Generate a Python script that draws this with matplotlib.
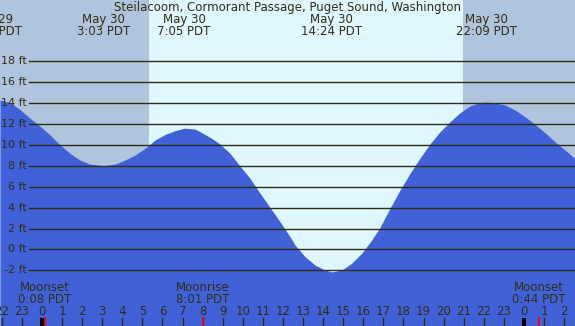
import numpy as np
import matplotlib.pyplot as plt
from matplotlib.patches import Rectangle

plt.rcParams['font.family'] = ['DejaVu Sans']

# tide height (ft), hours from midnight May 30
tide_hours = [-2.09, -1.59, -1.10, -0.60, -0.10, 0.40, 0.90, 1.39, 1.89, 2.39,
              2.89, 3.05, 3.64, 4.13, 4.63, 5.13, 5.63, 6.13, 6.62, 7.08,
              7.62, 7.87, 8.37, 8.86, 9.36, 9.86, 10.36, 10.86, 11.35, 11.85,
              12.35, 12.60, 13.10, 13.60, 14.09, 14.43, 14.93, 15.42, 15.92, 16.42,
              16.83, 17.33, 17.83, 18.33, 18.82, 19.32, 19.82, 20.32, 20.82, 21.31,
              21.81, 22.16, 22.56, 23.06, 23.56, 24.05, 24.55, 25.05, 25.55, 26.05,
              26.54]
tide_feet = [14.3, 14.05, 13.4, 12.55, 11.8, 10.95, 10.0, 9.2, 8.55, 8.17,
             8.05, 8.0, 8.17, 8.55, 9.03, 9.67, 10.47, 11.0, 11.36, 11.6,
             11.52, 11.26, 10.73, 10.09, 9.2, 7.98, 6.8, 5.37, 4.03, 2.65,
             1.22, 0.42, -0.7, -1.5, -1.97, -2.16, -1.97, -1.33, -0.37, 0.9,
             2.11, 3.93, 5.68, 7.28, 8.72, 10.09, 11.26, 12.22, 13.08, 13.72,
             14.04, 14.1, 14.02, 13.82, 13.34, 12.7, 11.97, 11.17, 10.3, 9.5,
             8.7]

# high / low labels along the top
extreme_hours = [-2.53, 3.05, 7.08, 14.40, 22.15]
extreme_labels = ['May 29\n21:28 PDT', 'May 30\n3:03 PDT', 'May 30\n7:05 PDT',
                  'May 30\n14:24 PDT', 'May 30\n22:09 PDT']

sunrise = 5.33
sunset = 20.97

moon_hours = [0.133, 8.017, 24.733]
moon_labels = ['Moonset\n0:08 PDT', 'Moonrise\n8:01 PDT', 'Moonset\n0:44 PDT']

levels = [-2, 0, 2, 4, 6, 8, 10, 12, 14, 16, 18]
hours = list(range(-2, 27))

title = 'Steilacoom, Cormorant Passage, Puget Sound, Washington'

night = '#b0c4de'
day = '#dff7ff'
water = '#4161d8'
ink = '#2e2e12'

W, H = 575, 326
x_lo, x_hi = -2.092, 26.544
y_lo, y_hi = -7.33, 23.87
fs = 8.5

fig = plt.figure(figsize=(W / 100, H / 100), dpi=100)
ax = fig.add_axes([0, 0, 1, 1])
ax.set_xlim(x_lo, x_hi)
ax.set_ylim(y_lo, y_hi)
ax.axis('off')

# day / night background
ax.axvspan(x_lo, sunrise, color=night, lw=0)
ax.axvspan(sunrise, sunset, color=day, lw=0)
ax.axvspan(sunset, x_hi, color=night, lw=0)

# tide
ax.fill_between(tide_hours, tide_feet, y_lo, color=water, lw=0)

# level lines + labels
for lv in levels:
    ax.axhline(lv, xmin=29 / W, xmax=1, color=ink, lw=1.0)
    ax.text(27 / W, lv, f'{lv} ft', transform=ax.get_yaxis_transform(),
            ha='right', va='center', fontsize=8, color=ink)

ax.text(287 / W, 1 - 7.3 / H, title, transform=ax.transAxes,
        ha='center', va='center', fontsize=fs, color=ink)

for h, lab in zip(extreme_hours, extreme_labels):
    ax.text(h, 1 - 25.5 / H, lab, transform=ax.get_xaxis_transform(),
            ha='center', va='center', fontsize=fs, color=ink, linespacing=0.95)

for h, lab in zip(moon_hours, moon_labels):
    ax.text(h, 1 - 293.3 / H, lab, transform=ax.get_xaxis_transform(),
            ha='center', va='center', fontsize=fs, color=ink, linespacing=0.95)

# hour axis along the bottom
xt = ax.get_xaxis_transform()
for h in hours:
    ax.text(h, 1 - 311.7 / H, str(h % 24), transform=xt,
            ha='center', va='center', fontsize=fs, color=ink)
    if h % 24 == 0:
        ax.add_patch(Rectangle((h - 0.08, 0), 0.16, 8 / H, transform=xt,
                               color='black', lw=0))
    else:
        ax.plot([h, h], [0, 8 / H], transform=xt, color=ink, lw=1.0)

for h in moon_hours:
    ax.plot([h, h], [0, 8 / H], transform=xt, color='red', lw=1.3)

fig.savefig('out.png', dpi=100)
